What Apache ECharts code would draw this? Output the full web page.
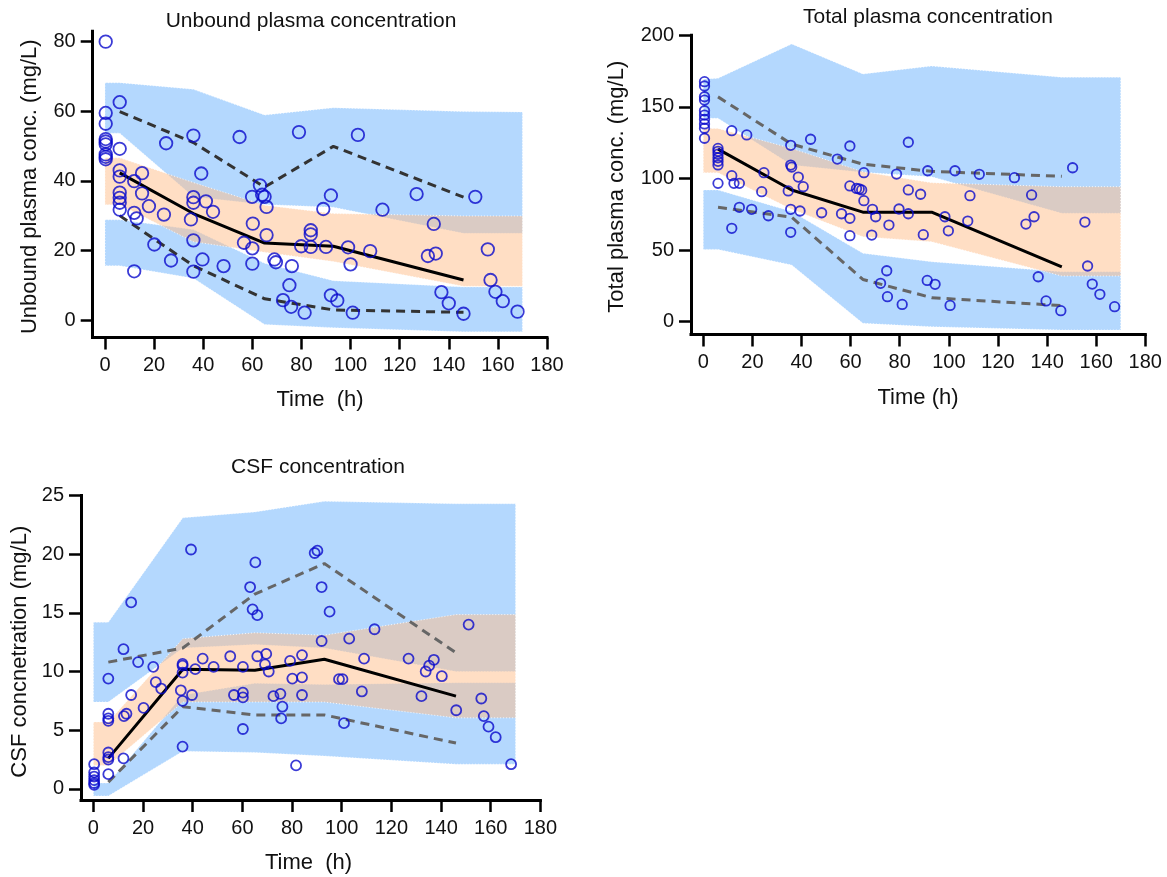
<!DOCTYPE html>
<html><head><meta charset="utf-8">
<script src="https://cdn.jsdelivr.net/npm/echarts@6/dist/echarts.min.js"></script>
<style>html,body{margin:0;padding:0;background:#fff}#c{width:1167px;height:877px}</style>
</head><body><div id="c"></div>
<script>
// ---------- shared ----------
const bandTimes = [0, 6, 36, 65, 93, 146, 170];
const obsTimes = [6, 36, 65, 93, 146];
const xTicks = [0, 20, 40, 60, 80, 100, 120, 140, 160, 180];

// ---------- panel 1: unbound plasma ----------
const p1Title = 'Unbound plasma concentration';
const p1YName = 'Unbound plasma conc. (mg/L)';
const p1XName = 'Time  (h)';
const p1YTicks = [0, 20, 40, 60, 80];
const p1UpperHi = [68.2, 68.2, 66.3, 58.9, 61.0, 59.9, 59.8];
const p1UpperLo = [53.7, 53.7, 35.4, 33.2, 32.4, 24.9, 24.9];
const p1MidHi = [46.6, 46.6, 39.5, 33.0, 30.6, 29.9, 29.9];
const p1MidLo = [33.1, 33.1, 22.5, 19.5, 16.8, 9.7, 9.7];
const p1LowerHi = [28.8, 28.8, 26.0, 16.3, 11.3, 9.5, 9.5];
const p1LowerLo = [15.6, 15.6, 12.0, -1.3, -2.2, -3.4, -3.4];
const p1Obs95 = [59.9, 51.0, 38.2, 49.9, 35.3];
const p1Obs50 = [42.3, 30.6, 22.1, 21.2, 11.5];
const p1Obs5 = [30.0, 15.6, 6.1, 2.9, 2.2];
const p1PointX = [0.3,0.3,0.3,0.3,0.3,0.3,0.3,0.3,0.3, 6,6,6,6,6,6,6,6,
  11.9,11.9,12.9,11.9,15.1,15.1,17.9,20.1,24,24.9,26.9,
  36,36,36,35,36,36,39.2,39.7,41.1,44,48.3,
  54.8,56.6,59.9,60.2,60,60,63.1,64,65,65.8,65.8,
  69,69.6,72.5,75.1,75.8,76.1,79,79.9,81.3,
  83.8,83.8,83.8,88.9,90,92,92,94.6,99,100,100.9,103,
  108,113,126.9,131.5,133.9,134.7,137,140,146,150.8,155.9,157,159,162,168];
const p1PointY = [80,59.5,56.4,52.0,51.3,50.5,47.6,46.9,46.2, 62.6,49.2,43.0,41.2,36.6,35.1,33.7,31.7,
  39.9,30.8,29.2,14.0,42.2,36.4,32.7,21.7,30.3,50.8,17.1,
  53,35.3,33.7,28.9,22.9,13.9,42.1,17.4,34.1,31.1,15.5,
  52.6,22.2,35.4,27.7,20.6,16.2,38.7,36,35.4,32.5,24.4,
  17.4,16.6,5.7,10,3.8,15.5,54,21.2,2.1,
  25.8,24.6,21,31.9,21,35.8,7.1,5.6,20.9,16,2.1,53.2,
  19.8,31.7,36.2,18.4,27.6,19.1,8,4.8,1.8,35.4,20.3,11.5,8.1,5.4,2.4];

// ---------- panel 2: total plasma ----------
const p2Title = 'Total plasma concentration';
const p2YName = 'Total plasma conc. (mg/L)';
const p2XName = 'Time (h)';
const p2YTicks = [0, 50, 100, 150, 200];
const p2UpperHi = [169.3, 170, 194, 173, 178.5, 170.7, 170.7];
const p2UpperLo = [142, 142, 109.4, 104.3, 101.3, 75.7, 75.7];
const p2MidHi = [135, 135, 121, 104.7, 97, 94.3, 94.3];
const p2MidLo = [104, 104, 78.5, 59.4, 55.9, 31.9, 31.9];
const p2LowerHi = [92, 92, 77, 47.8, 41.9, 34.9, 34.9];
const p2LowerLo = [50.5, 50.5, 39.6, -1.1, -3.5, -5.8, -5.8];
const p2Obs95 = [157, 124, 110, 105, 101.5];
const p2Obs50 = [120.5, 92, 76.5, 76.5, 38.3];
const p2Obs5 = [79.9, 73, 29.5, 16.8, 11.2];
const p2PointX = [0.5,0.5,0.5,0.5,0.5,0.5,0.5,0.5,0.5,0.5, 6,6,6,6,6,6,6,
  11.6,11.6,12.5,14.7,11.6,14.7,17.7,19.7,23.8,24.7,26.5,
  35.6,35.6,36,34.6,35.6,35.6,38.7,40.7,39.4,43.7,48.2,
  54.6,56.3,59.7,59.7,59.7,59.7,62.4,63.5,64.5,65.4,65.4,
  68.9,70.2,68.6,75.6,74.7,72.2,75,81,78.7,79.7,
  83.5,83.5,83.5,88.5,89.6,91.4,91.2,94.4,98.4,99.8,100.5,
  102.5,108.6,107.7,112.4,126.7,133.7,134.7,131.4,136.4,139.6,
  145.6,150.4,155.4,156.5,158.4,161.5,167.5];
const p2PointY = [167.6,164.6,157.1,154.8,147.3,144.3,141.3,138.1,135.1,128.1, 121,119,117,114.5,112,109.5,96.6,
  133.4,102,96.6,96.6,65.2,79.9,130.4,78.5,90.8,104.1,74,
  123.2,109.4,108,91.3,78.5,62.4,101,94.3,77.3,127.4,76.1,
  113.6,75.4,122.7,94.8,72.2,60.1,93.1,92.7,92,84.5,104.1,
  78.5,73.3,60.5,67.5,35.6,26.8,17.5,12.1,103.1,78.7,
  125.3,92,75.4,89,60.8,105.4,28.8,26.1,73.3,63.5,11.4,
  105.4,88,70.3,102.9,100.6,88.5,73.3,68.2,31.4,14.5,
  7.7,107.5,69.6,38.9,26.3,19.1,10.5];

// ---------- panel 3: CSF ----------
const p3Title = 'CSF concentration';
const p3YName = 'CSF concnetration (mg/L)';
const p3XName = 'Time  (h)';
const p3YTicks = [0, 5, 10, 15, 20, 25];
const p3UpperHi = [14.2, 14.2, 23.1, 23.6, 24.5, 24.3, 24.3];
const p3UpperLo = [7.4, 7.4, 12.0, 12.3, 12.0, 10.0, 10.0];
const p3MidHi = [5.7, 5.7, 12.8, 13.3, 13.1, 14.85, 14.85];
const p3MidLo = [2.0, 2.0, 7.4, 7.4, 7.4, 6.05, 6.05];
const p3LowerHi = [0.5, 0.5, 8.0, 9.0, 8.9, 9.05, 9.05];
const p3LowerLo = [-0.6, -0.6, 3.2, 3.1, 2.8, 2.1, 2.1];
const p3Obs95 = [10.8, 12.0, 16.6, 19.2, 11.6];
const p3Obs50 = [2.6, 10.2, 10.1, 11.05, 7.9];
const p3Obs5 = [0.57, 7.0, 6.3, 6.3, 3.9];
const p3PointX = [0.3,0.3,0.3,0.3,0.3,0.3, 6,6,6,6,6,6,6,6,
  12.1,12.1,12.3,13.3,15.2,15.2,18,20.2,24.1,25.1,27.3,
  35.9,35.9,35.9,35.2,35.9,35.9,39.3,39.7,41,44,48.4,
  55.1,56.6,60.2,60.2,60.2,60.2,63.1,64.1,65.2,66,66,69.6,69.1,70.6,72.5,75.3,76.1,75.6,
  79.2,80.1,81.6,84,84,84,89.1,90.2,91.9,91.9,95.1,98.9,100.3,100.9,103,109,108.1,113.2,
  126.9,132.1,133.8,135.2,137.1,140.3,146.1,151.1,156.2,157.2,159.1,162,168.2];
const p3PointY = [2.1,1.4,1.05,0.75,0.5,0.35, 9.4,6.4,6.0,5.8,3.1,2.7,2.5,1.25,
  11.9,2.6,6.2,6.4,15.9,8.0,10.8,6.9,10.4,9.1,8.55,
  10.65,10.5,9.9,8.4,7.5,3.6,20.4,8.0,10.2,11.1,10.4,
  11.3,8.0,8.2,7.8,10.4,5.1,17.2,15.3,19.3,14.8,11.3,11.5,10.6,10.0,7.9,8.1,7.0,6.0,
  10.9,9.4,2.0,11.4,9.5,8.0,20.1,20.3,17.2,12.6,15.1,9.35,9.35,5.6,12.8,11.1,8.3,13.6,
  11.1,7.9,10.0,10.5,11.0,9.6,6.7,14.0,7.7,6.2,5.3,4.4,2.1];

// ---------- styles ----------
const FONT = '"Liberation Sans", Arial, Helvetica, sans-serif';
const BLUE_BAND = '#B4D8FE';
const ORANGE_BAND = 'rgba(255,189,137,0.5)';
const POINT_COLOR = '#0A0ACC';

const panels = [
  {title:p1Title, yName:p1YName, xName:p1XName, yTicks:p1YTicks, ymin:-5, ymax:83,
   uh:p1UpperHi, ul:p1UpperLo, mh:p1MidHi, ml:p1MidLo, lh:p1LowerHi, ll:p1LowerLo,
   o95:p1Obs95, o50:p1Obs50, o5:p1Obs5, px:p1PointX, py:p1PointY, dash:'#333', sym:12.5,
   grid:{left:92.7, top:31.2, width:454.3, height:306.2},
   titlePos:[311,21], xNamePos:[320,400], yNamePos:[29.6,186.7]},
  {title:p2Title, yName:p2YName, xName:p2XName, yTicks:p2YTicks, ymin:-9, ymax:200,
   uh:p2UpperHi, ul:p2UpperLo, mh:p2MidHi, ml:p2MidLo, lh:p2LowerHi, ll:p2LowerLo,
   o95:p2Obs95, o50:p2Obs50, o5:p2Obs5, px:p2PointX, py:p2PointY, dash:'#666', sym:9.5,
   grid:{left:691, top:35.3, width:454.3, height:299.3},
   titlePos:[928,17], xNamePos:[918,398], yNamePos:[616.7,186.7]},
  {title:p3Title, yName:p3YName, xName:p3XName, yTicks:p3YTicks, ymin:-0.95, ymax:25,
   uh:p3UpperHi, ul:p3UpperLo, mh:p3MidHi, ml:p3MidLo, lh:p3LowerHi, ll:p3LowerLo,
   o95:p3Obs95, o50:p3Obs50, o5:p3Obs5, px:p3PointX, py:p3PointY, dash:'#666', sym:10,
   grid:{left:81, top:495.5, width:459.4, height:304.5},
   titlePos:[318,467], xNamePos:[308.5,863], yNamePos:[20,651.7]}
];

function bandSeries(idx, hi, lo, fill, z) {
  const rows = bandTimes.map((t, i) => [t, lo[i], hi[i]]);
  return {
    type: 'custom', xAxisIndex: idx, yAxisIndex: idx, z: z, silent: true,
    data: rows, encode: {x: 0, y: [1, 2]},
    renderItem: function (params, api) {
      if (params.dataIndex !== 0) return null;
      const top = rows.map(r => api.coord([r[0], r[2]]));
      const bot = rows.slice().reverse().map(r => api.coord([r[0], r[1]]));
      return {type: 'polygon', shape: {points: top.concat(bot)},
        style: {fill: fill, stroke: 'rgba(255,255,255,0.85)', lineWidth: 1, lineDash: [1, 2]}};
    }
  };
}
function lineSeries(idx, vals, color, dashed, z) {
  return {type: 'line', xAxisIndex: idx, yAxisIndex: idx, z: z, silent: true,
    data: obsTimes.map((t, i) => [t, vals[i]]), symbol: 'none',
    lineStyle: {color: color, width: 3, type: dashed ? [9, 6] : 'solid', cap: 'butt'}};
}

const grids = [], xAxes = [], yAxes = [], series = [], graphics = [];
panels.forEach((p, i) => {
  grids.push(Object.assign({containLabel: false, outerBoundsMode: 'none'}, p.grid));
  const axLine = {show: true, onZero: false, lineStyle: {color: '#000', width: 3, cap: 'square'}};
  const lbl = {fontSize: 20, color: '#111', fontFamily: FONT};
  xAxes.push({type: 'value', gridIndex: i, min: -5, max: 180, splitLine: {show: false},
    axisLine: axLine,
    axisTick: {show: true, length: 12, lineStyle: {color: '#000', width: 2.5}, customValues: xTicks},
    axisLabel: Object.assign({customValues: xTicks, margin: 18}, lbl)});
  yAxes.push({type: 'value', gridIndex: i, min: p.ymin, max: p.ymax, splitLine: {show: false},
    axisLine: axLine,
    axisTick: {show: true, length: 12, lineStyle: {color: '#000', width: 2.5}, customValues: p.yTicks},
    axisLabel: Object.assign({customValues: p.yTicks, margin: 17}, lbl)});
  series.push(bandSeries(i, p.uh, p.ul, BLUE_BAND, 1));
  series.push(bandSeries(i, p.lh, p.ll, BLUE_BAND, 1));
  series.push(bandSeries(i, p.mh, p.ml, ORANGE_BAND, 2));
  series.push(lineSeries(i, p.o95, p.dash, true, 3));
  series.push(lineSeries(i, p.o5, p.dash, true, 3));
  series.push(lineSeries(i, p.o50, '#000', false, 4));
  series.push({type: 'scatter', xAxisIndex: i, yAxisIndex: i, z: 5, silent: true,
    data: p.px.map((x, k) => [x, p.py[k]]), symbol: 'circle', symbolSize: p.sym,
    itemStyle: {color: 'rgba(255,255,255,0)', borderColor: POINT_COLOR, borderWidth: 1.8}});
  graphics.push({type: 'text', x: p.titlePos[0], y: p.titlePos[1],
    style: {text: p.title, font: '21px ' + FONT, fill: '#111', textAlign: 'center', textVerticalAlign: 'middle', align: 'center', verticalAlign: 'middle'}});
  graphics.push({type: 'text', x: p.xNamePos[0], y: p.xNamePos[1],
    style: {text: p.xName, font: '22px ' + FONT, fill: '#111', textAlign: 'center', textVerticalAlign: 'middle', align: 'center', verticalAlign: 'middle'}});
  graphics.push({type: 'text', x: p.yNamePos[0], y: p.yNamePos[1], rotation: Math.PI / 2,
    style: {text: p.yName, font: '22px ' + FONT, fill: '#111', textAlign: 'center', textVerticalAlign: 'middle', align: 'center', verticalAlign: 'middle'}});
});

const chart = echarts.init(document.getElementById('c'), null, {renderer: 'canvas'});
chart.setOption({
  animation: false,
  backgroundColor: '#fff',
  grid: grids, xAxis: xAxes, yAxis: yAxes, series: series,
  graphic: {elements: graphics}
});
</script></body></html>
